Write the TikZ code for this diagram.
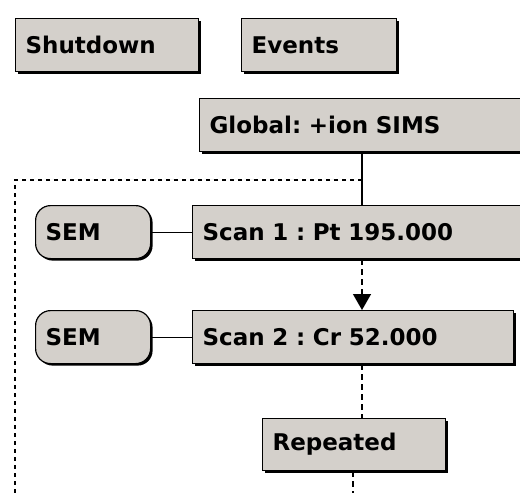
\documentclass[tikz,border=0pt]{standalone}
\usepackage{fontspec}
\setmainfont{DejaVu Sans}
\usetikzlibrary{positioning,arrows.meta,shadows}
\definecolor{blockGray}{RGB}{212,208,203}
\tikzstyle{blockStyle} = [draw=black, fill=blockGray, line width=1.2pt, anchor=north west, inner xsep=10pt, inner ysep=0pt, align=left, font=\fontsize{23}{27}\selectfont\bfseries\frenchspacing, drop shadow={shadow xshift=2pt, shadow yshift=-2pt, fill=black, opacity=1}]
\tikzstyle{detectorStyle} = [blockStyle, rounded corners=15pt]
\tikzstyle{linkLine} = [line width=1.2pt]
\tikzstyle{flowDash} = [line width=1.4pt, dash pattern=on 6pt off 4pt]
\tikzstyle{frameDash} = [line width=1.4pt, dash pattern=on 4pt off 4pt]
\newcommand{\blockNode}[5]{\node [blockStyle, text width=#3, minimum height=#4] (#1) at (#2) {#5};}
\newcommand{\detectorNode}[3]{\node [detectorStyle, text width=95pt, minimum height=53pt] (#1) at (#2) {#3};}

\begin{document}
\begin{tikzpicture}[x=1pt, y=-1pt]
  \useasboundingbox (0,0) rectangle (520,493);
  \clip (0,0) rectangle (520,493);
  \coordinate (mainLine) at (362,0);
  \coordinate (repeatLine) at (353,493);
  \coordinate (frameCorner) at (15,180);

  % loop frame
  \draw [frameDash] (mainLine |- frameCorner) -- (frameCorner) -- (frameCorner |- repeatLine);

  \blockNode{shutdownBlock}{15,18}{163pt}{53pt}{Shutdown}
  \blockNode{eventsBlock}{241,18}{135pt}{53pt}{Events}
  \blockNode{globalBlock}{199,98}{320pt}{53pt}{Global: +ion SIMS}

  \blockNode{scanOne}{192,205}{330pt}{53pt}{Scan 1 : Pt 195.000}
  \detectorNode{semOne}{35,205}{SEM}
  \blockNode{scanTwo}{192,310}{301pt}{53pt}{Scan 2 : Cr 52.000}
  \detectorNode{semTwo}{35,310}{SEM}
  \blockNode{repeatedBlock}{262,418}{163pt}{52pt}{Repeated}

  \draw [linkLine] (globalBlock.south -| mainLine) -- (scanOne.north -| mainLine);
  \draw [linkLine] (semOne.east) -- (scanOne.west);
  \draw [linkLine] (semTwo.east) -- (scanTwo.west);
  \draw [flowDash, -{Triangle[width=18pt, length=16pt]}] (scanOne.south -| mainLine) -- (scanTwo.north -| mainLine);
  \draw [flowDash] (scanTwo.south -| mainLine) -- (repeatedBlock.north -| mainLine);
  \draw [flowDash] (repeatedBlock.south -| repeatLine) -- (repeatLine);
\end{tikzpicture}
\end{document}
